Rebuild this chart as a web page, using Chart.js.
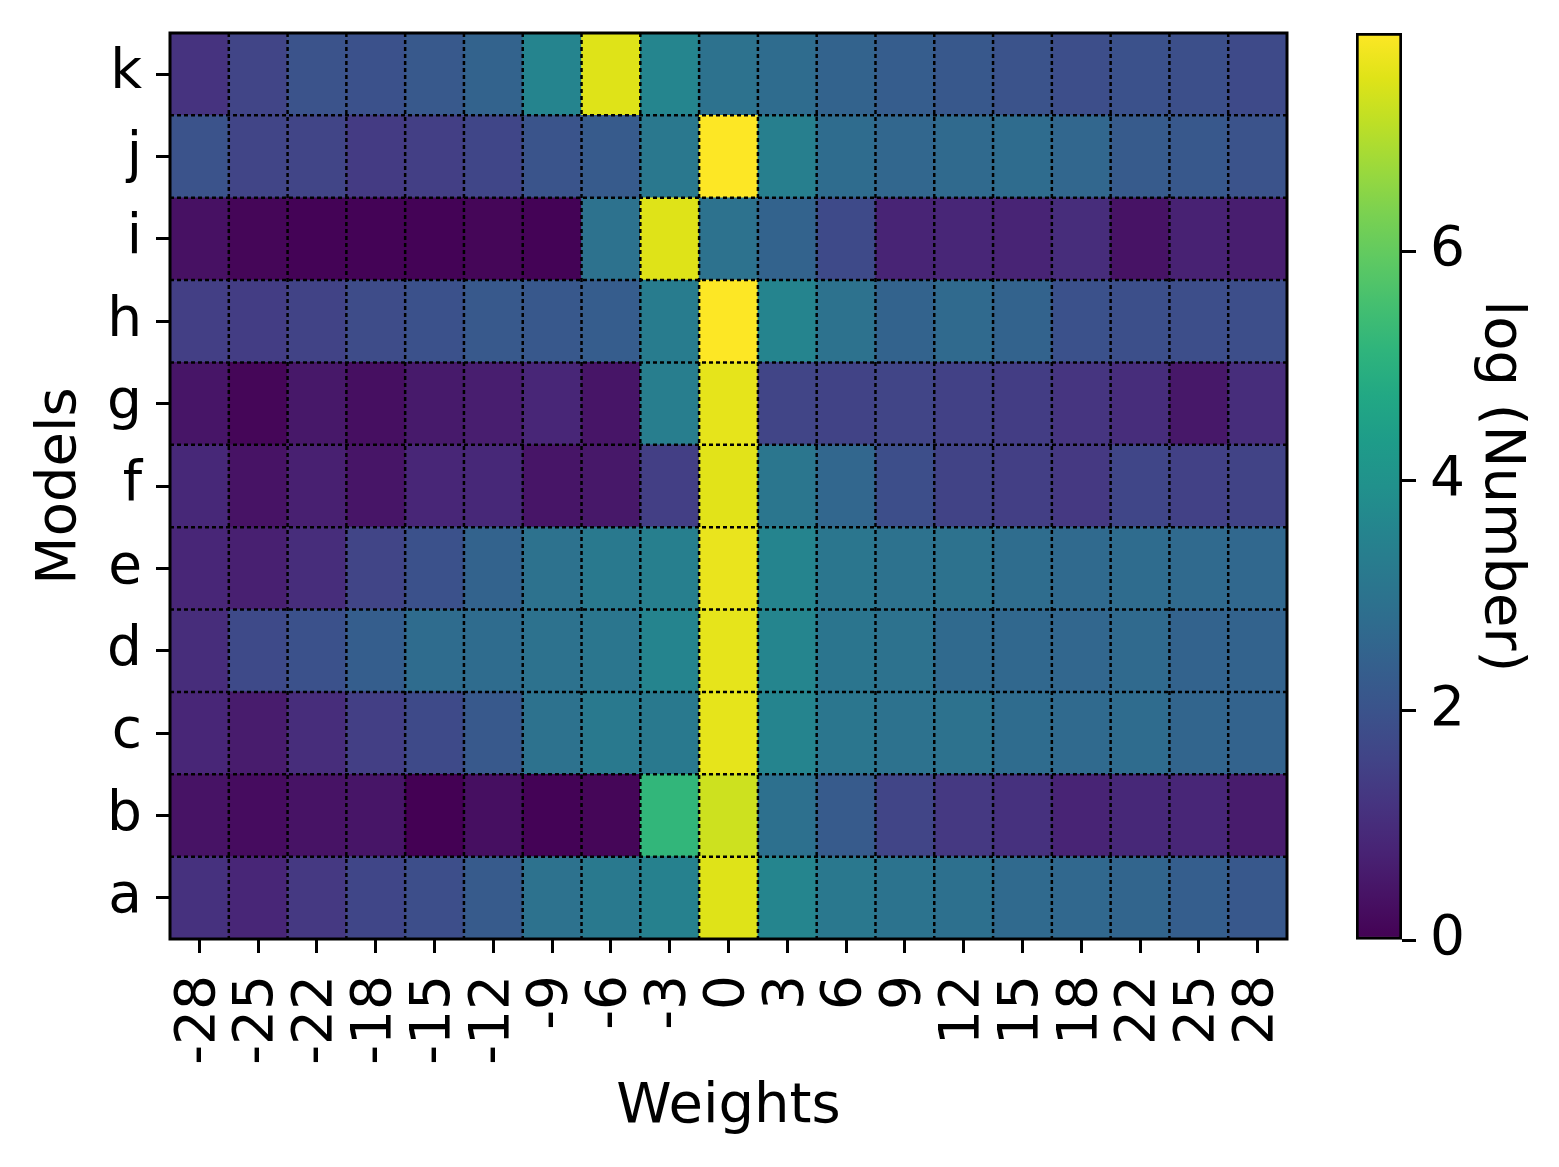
<!DOCTYPE html>
<html><head><meta charset="utf-8">
<script src="https://cdn.jsdelivr.net/npm/chart.js@4"></script>
<style>
html,body{margin:0;padding:0;background:#fff}
#wrap{position:relative;width:1559px;height:1167px;background:#fff}
canvas{position:absolute;top:0}
</style>
</head><body>
<div id="wrap">
<canvas id="main" width="1559" height="1167" style="left:0;width:1559px;height:1167px"></canvas>
<canvas id="cbar" width="259" height="1167" style="left:1300px;width:259px;height:1167px"></canvas>
</div>
<script>
// Column categories (x) and row categories (y, bottom to top)
const weights = ['-28','-25','-22','-18','-15','-12','-9','-6','-3','0','3','6','9','12','15','18','22','25','28'];
const models = ['a','b','c','d','e','f','g','h','i','j','k'];

// log(Number) per model, one value per weight column
const row_a = [1.1,0.85,1.3,1.65,1.85,2.25,2.95,3.2,3.45,7.5,3.6,3.15,3.0,2.9,2.7,2.65,2.55,2.35,2.15];
const row_b = [0.4,0.25,0.4,0.45,0.0,0.3,0.05,0.1,5.2,7.3,2.9,2.25,1.6,1.3,1.1,0.8,0.9,0.85,0.6];
const row_c = [0.85,0.6,1.0,1.45,1.75,2.2,2.95,3.2,3.2,7.6,3.55,3.1,2.95,2.95,2.75,2.7,2.75,2.55,2.5];
const row_d = [1.0,1.75,1.95,2.35,2.75,2.75,2.95,3.1,3.55,7.6,3.6,3.05,2.95,2.7,2.65,2.6,2.7,2.5,2.5];
const row_e = [0.85,0.7,1.0,1.6,1.95,2.5,2.95,3.2,3.4,7.65,3.55,3.1,2.95,2.95,2.8,2.7,2.75,2.7,2.65];
const row_f = [0.9,0.4,0.7,0.45,0.85,0.9,0.45,0.5,1.45,7.55,3.1,2.6,1.85,1.55,1.45,1.3,1.65,1.5,1.55];
const row_g = [0.45,0.1,0.5,0.3,0.55,0.65,0.85,0.45,3.35,7.6,1.6,1.55,1.6,1.5,1.4,1.2,1.0,0.5,1.0];
const row_h = [1.45,1.4,1.55,1.8,1.95,2.2,2.15,2.3,3.3,7.9,3.55,2.95,2.5,2.7,2.5,1.95,1.9,1.85,1.85];
const row_i = [0.35,0.1,0.05,0.05,0.05,0.1,0.05,2.95,7.5,2.95,2.5,1.75,0.8,0.85,0.8,1.0,0.4,0.75,0.65];
const row_j = [2.0,1.6,1.6,1.35,1.45,1.65,2.05,2.25,3.15,7.9,3.4,2.75,2.6,2.7,2.75,2.6,2.25,2.15,2.0];
const row_k = [1.15,1.6,2.0,1.95,2.2,2.5,3.55,7.5,3.6,2.95,2.75,2.5,2.3,2.15,2.0,1.85,1.95,1.9,1.75];
const values = [row_a,row_b,row_c,row_d,row_e,row_f,row_g,row_h,row_i,row_j,row_k];

const cbarTicks = [0,2,4,6];

// viridis colormap stops
const VIRIDIS = ['#440154','#471365','#482475','#463480','#414487','#3b528b','#355f8d','#2f6c8e','#2a788e','#25848e','#21918c','#1e9c89','#22a884','#2fb47c','#44bf70','#5ec962','#7ad151','#9bd93c','#bddf26','#dfe318','#fde725'];
const vmin = 0;
const vmax = Math.max(...values.flat());
function hex2rgb(h){return [parseInt(h.slice(1,3),16),parseInt(h.slice(3,5),16),parseInt(h.slice(5,7),16)];}
const VRGB = VIRIDIS.map(hex2rgb);
function viridis(v){
  let t=(v-vmin)/(vmax-vmin); t=Math.max(0,Math.min(1,t));
  const p=t*(VRGB.length-1); const i=Math.min(Math.floor(p),VRGB.length-2); const f=p-i;
  const c=VRGB[i].map((a,k)=>Math.round(a+(VRGB[i+1][k]-a)*f));
  return `rgb(${c[0]},${c[1]},${c[2]})`;
}

Chart.defaults.font.family = "'DejaVu Sans', sans-serif";
Chart.defaults.color = '#000';

const TICK_FONT = {size:55};
const TITLE_FONT = {size:56};

const cellGrid = {
  id:'cellGrid',
  afterDatasetsDraw(chart){
    const {ctx, chartArea:a, scales:{x,y}} = chart;
    ctx.save();
    ctx.strokeStyle='#000'; ctx.lineWidth=2.5; ctx.setLineDash([4,3]);
    ctx.beginPath();
    for(let i=1;i<weights.length;i++){
      const px=(x.getPixelForValue(i-1)+x.getPixelForValue(i))/2;
      ctx.moveTo(px,a.top); ctx.lineTo(px,a.bottom);
    }
    for(let j=1;j<models.length;j++){
      const py=y.getPixelForValue(j-0.5);
      ctx.moveTo(a.left,py); ctx.lineTo(a.right,py);
    }
    ctx.stroke();
    ctx.setLineDash([]); ctx.lineWidth=3;
    ctx.strokeRect(a.left,a.top,a.right-a.left,a.bottom-a.top);
    ctx.restore();
  }
};

new Chart(document.getElementById('main'), {
  type:'bar',
  data:{
    labels: weights,
    datasets: values.map((row,i)=>({
      label: models[i],
      data: row.map(()=>[i-0.5,i+0.5]),
      backgroundColor: row.map(viridis),
      borderWidth:0,
      barPercentage:1,
      categoryPercentage:1,
      grouped:false
    }))
  },
  options:{
    responsive:false,
    animation:false,
    devicePixelRatio:1,
    layout:{padding:{top:33,right:272,left:0,bottom:0}},
    plugins:{legend:{display:false},tooltip:{enabled:false}},
    scales:{
      x:{
        type:'category',
        afterFit:s=>{s.height=228;s.paddingLeft=0;s.paddingRight=0;},
        grid:{offset:false,drawOnChartArea:false,drawTicks:true,tickLength:14,tickWidth:3,tickColor:'#000',color:'#000'},
        border:{display:false},
        ticks:{font:TICK_FONT,minRotation:90,maxRotation:90,autoSkip:false,padding:22,color:'#000'},
        title:{display:true,text:'Weights',font:TITLE_FONT,padding:{top:0,bottom:26},color:'#000'}
      },
      y:{
        type:'linear',
        min:-0.5,max:models.length-0.5,
        afterFit:s=>{s.width=170;s.paddingTop=0;s.paddingBottom=0;},
        afterBuildTicks:s=>{s.ticks=models.map((m,i)=>({value:i}));},
        grid:{drawOnChartArea:false,drawTicks:true,tickLength:14,tickWidth:3,tickColor:'#000',color:'#000'},
        border:{display:false},
        ticks:{font:TICK_FONT,padding:14,autoSkip:false,color:'#000',callback:v=>models[v]},
        title:{display:true,text:'Models',font:TITLE_FONT,padding:{top:27,bottom:0},color:'#000'}
      }
    }
  },
  plugins:[cellGrid]
});

new Chart(document.getElementById('cbar'), {
  type:'bar',
  data:{
    labels:[''],
    datasets:[{
      data:[[vmin,vmax]],
      backgroundColor:(c)=>{
        const ch=c.chart, ys=ch.scales.y;
        if(!ch.chartArea||!ys) return VIRIDIS[10];
        const g=ch.ctx.createLinearGradient(0,ys.getPixelForValue(vmin),0,ys.getPixelForValue(vmax));
        VIRIDIS.forEach((col,i)=>g.addColorStop(i/(VIRIDIS.length-1),col));
        return g;
      },
      borderColor:'#000',
      borderWidth:3,
      borderSkipped:false,
      barPercentage:1,
      categoryPercentage:1
    }]
  },
  options:{
    responsive:false,
    animation:false,
    devicePixelRatio:1,
    layout:{padding:{top:33,right:0,left:56,bottom:227}},
    plugins:{legend:{display:false},tooltip:{enabled:false}},
    scales:{
      x:{display:false},
      y:{
        position:'right',
        min:vmin,max:vmax,
        afterFit:s=>{s.width=157;s.paddingTop=0;s.paddingBottom=0;},
        afterBuildTicks:s=>{s.ticks=cbarTicks.map(v=>({value:v}));},
        grid:{drawOnChartArea:false,drawTicks:true,tickLength:14,tickWidth:3,tickColor:'#000',color:'#000'},
        border:{display:false},
        ticks:{font:TICK_FONT,padding:14,color:'#000'},
        title:{display:true,text:'log (Number)',font:TITLE_FONT,padding:{top:25,bottom:0},color:'#000'}
      }
    }
  }
});
</script>
</body></html>
